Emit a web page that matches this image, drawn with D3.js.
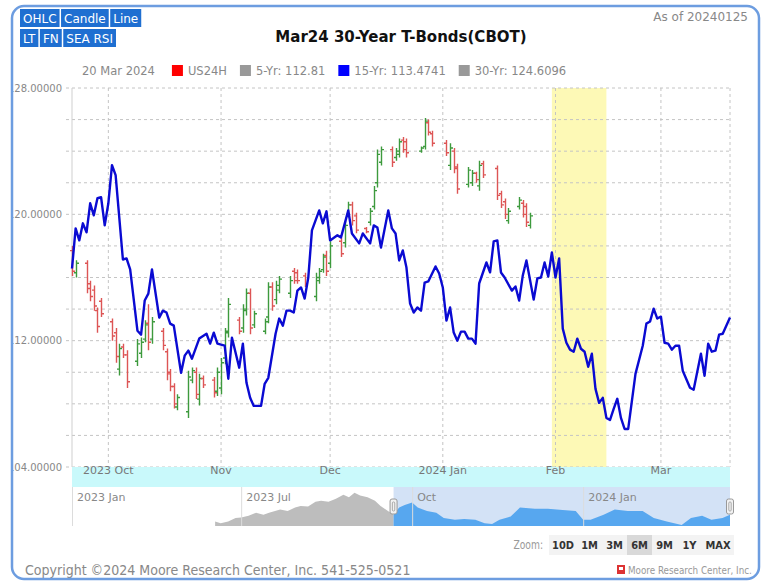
<!DOCTYPE html>
<html>
<head>
<meta charset="utf-8">
<script src="https://cdn.jsdelivr.net/npm/d3@7"></script>
<style>
  body { margin: 0; background: #fff; }
  svg { display: block; font-family: "DejaVu Sans", Verdana, sans-serif; }
</style>
</head>
<body>
<div id="chart"></div>
<script>
// ---- data ----
var topButtons = [["OHLC", "Candle", "Line"], ["LT", "FN", "SEA RSI"]];
var titleText = "Mar24 30-Year T-Bonds(CBOT)";
var asOfText = "As of 20240125";
var legendDate = "20 Mar 2024";
var legendNames = ["US24H", "5-Yr: 112.81", "15-Yr: 113.4741", "30-Yr: 124.6096"];
var legendColors = ["#ff0000", "#999999", "#0000ff", "#999999"];

var monthTicks = ["2023-10-01", "2023-11-01", "2023-12-01", "2024-01-01", "2024-02-01", "2024-03-01"];
var monthLabels = ["2023 Oct", "Nov", "Dec", "2024 Jan", "Feb", "Mar"];
var yLabelTicks = [104, 112, 120, 128];
var seasonalWindow = ["2024-01-31", "2024-02-15"];

var navTicks = ["2023-01-01", "2023-07-01", "2023-10-01", "2024-01-01"];
var navLabels = ["2023 Jan", "2023 Jul", "Oct", "2024 Jan"];
var zoomLabels = ["10D", "1M", "3M", "6M", "9M", "1Y", "MAX"];
var zoomSelected = "6M";

// US24H daily bars: date, open, high, low, close
var us24h = [
  ["2023-09-21",117.7,118.0,116.1,116.4],["2023-09-22",116.3,117.1,116.0,116.9],
  ["2023-09-25",116.9,117.1,115.0,115.3],["2023-09-26",115.6,115.8,114.5,114.8],
  ["2023-09-27",115.2,115.5,113.9,114.2],["2023-09-28",113.9,114.1,112.5,112.9],
  ["2023-09-29",114.5,114.7,113.5,113.7],["2023-10-02",113.2,113.4,112.0,112.3],
  ["2023-10-03",112.5,112.8,110.6,111.0],["2023-10-04",110.2,111.8,109.8,111.5],
  ["2023-10-05",111.6,111.8,110.9,111.1],["2023-10-06",111.1,111.4,109.0,109.4],
  ["2023-10-09",110.7,112.1,110.4,111.8],["2023-10-10",111.2,112.2,110.9,111.9],
  ["2023-10-11",112.1,113.3,111.9,113.0],["2023-10-12",113.1,114.3,111.4,111.9],
  ["2023-10-13",112.1,113.5,111.8,113.2],["2023-10-16",112.6,112.8,111.4,111.7],
  ["2023-10-17",111.3,111.5,109.5,109.9],["2023-10-18",110.0,110.2,108.8,109.1],
  ["2023-10-19",109.1,109.3,107.7,108.0],["2023-10-20",107.8,108.6,107.6,108.4],
  ["2023-10-23",107.5,110.1,107.1,109.7],["2023-10-24",109.5,110.3,109.3,110.1],
  ["2023-10-25",110.0,110.3,108.3,108.6],["2023-10-26",108.3,109.9,107.9,109.6],
  ["2023-10-27",109.6,109.8,109.0,109.2],["2023-10-30",109.5,109.7,108.4,108.7],
  ["2023-10-31",108.8,110.3,108.5,110.0],["2023-11-01",109.0,110.9,108.6,110.6],
  ["2023-11-02",110.9,112.8,110.5,112.5],["2023-11-03",112.6,114.7,112.2,114.3],
  ["2023-11-06",113.3,113.5,112.4,112.6],["2023-11-07",112.8,114.3,112.5,114.0],
  ["2023-11-08",113.9,115.3,113.6,115.0],["2023-11-09",115.0,115.3,112.4,112.8],
  ["2023-11-10",113.0,113.9,112.8,113.7],["2023-11-13",112.6,113.4,112.4,113.2],
  ["2023-11-14",113.5,115.7,113.1,115.4],["2023-11-15",115.4,115.7,113.9,114.2],
  ["2023-11-16",114.6,115.8,114.3,115.5],["2023-11-17",115.2,116.1,115.0,115.9],
  ["2023-11-20",115.0,116.1,114.7,115.8],["2023-11-21",116.4,116.6,115.6,115.8],
  ["2023-11-22",116.3,116.5,115.6,115.8],["2023-11-24",116.1,116.3,115.4,115.6],
  ["2023-11-27",114.8,116.3,114.5,116.0],["2023-11-28",115.8,116.6,115.6,116.4],
  ["2023-11-29",116.5,117.5,116.3,117.3],["2023-11-30",117.4,117.7,116.1,116.4],
  ["2023-12-01",116.9,118.3,116.6,118.0],["2023-12-04",118.3,118.5,117.3,117.5],
  ["2023-12-05",118.2,119.6,117.9,119.3],["2023-12-06",120.0,120.8,119.8,120.6],
  ["2023-12-07",120.6,120.8,119.3,119.6],["2023-12-08",119.9,120.1,118.8,119.0],
  ["2023-12-11",119.1,119.2,118.8,118.9],["2023-12-12",119.5,120.4,119.3,120.2],
  ["2023-12-13",120.5,121.8,120.3,121.5],["2023-12-14",122.0,124.1,121.7,123.8],
  ["2023-12-15",123.3,124.3,123.1,124.1],["2023-12-18",124.1,124.3,123.0,123.3],
  ["2023-12-19",123.6,124.2,123.4,124.0],["2023-12-20",123.8,124.8,123.6,124.6],
  ["2023-12-21",124.7,124.9,123.9,124.1],["2023-12-22",124.6,124.8,123.6,123.9],
  ["2023-12-26",124.0,124.3,123.9,124.2],["2023-12-27",124.3,126.1,124.1,125.9],
  ["2023-12-28",125.8,126.0,125.0,125.2],["2023-12-29",125.1,125.3,124.3,124.5],
  ["2024-01-02",124.5,124.7,123.7,123.9],["2024-01-03",123.1,124.5,122.8,124.2],
  ["2024-01-04",124.0,124.2,122.6,122.9],["2024-01-05",123.0,123.2,121.3,121.6],
  ["2024-01-08",121.9,123.0,121.7,122.8],["2024-01-09",122.0,122.8,121.8,122.6],
  ["2024-01-10",122.6,122.7,122.0,122.2],["2024-01-11",121.8,123.4,121.5,123.1],
  ["2024-01-12",123.2,123.4,122.3,122.5],["2024-01-16",122.9,123.1,120.9,121.2],
  ["2024-01-17",121.3,121.5,120.4,120.6],["2024-01-18",120.8,121.0,119.7,120.0],
  ["2024-01-19",119.6,120.4,119.4,120.2],["2024-01-22",120.5,121.1,120.3,120.9],
  ["2024-01-23",120.7,120.9,119.8,120.0],["2024-01-24",120.5,120.7,119.2,119.5],
  ["2024-01-25",119.3,120.1,119.1,119.9]
];

// 15-year seasonal pattern
var fifteenYr = [
  ["2023-09-21",116.57],["2023-09-22",119.11],["2023-09-23",118.35],["2023-09-24",119.43],
  ["2023-09-25",118.86],["2023-09-26",120.70],["2023-09-27",119.94],["2023-09-28",121.02],
  ["2023-09-29",121.08],["2023-09-30",119.30],["2023-10-01",120.70],["2023-10-02",123.11],
  ["2023-10-03",122.48],["2023-10-05",117.14],["2023-10-06",117.21],["2023-10-07",116.51],
  ["2023-10-09",112.63],["2023-10-10",112.38],["2023-10-11",114.54],["2023-10-12",114.98],
  ["2023-10-13",116.51],["2023-10-15",113.46],["2023-10-16",113.90],["2023-10-17",113.78],
  ["2023-10-18",113.08],["2023-10-19",112.95],["2023-10-21",109.97],["2023-10-22",111.05],
  ["2023-10-23",111.37],["2023-10-24",110.86],["2023-10-26",112.13],["2023-10-28",112.44],
  ["2023-10-29",111.81],["2023-10-30",112.51],["2023-10-31",111.81],["2023-11-02",111.68],
  ["2023-11-03",109.59],["2023-11-04",112.19],["2023-11-06",110.29],["2023-11-07",111.81],
  ["2023-11-08",109.33],["2023-11-09",108.38],["2023-11-10",107.87],["2023-11-12",107.87],
  ["2023-11-13",109.27],["2023-11-14",109.65],["2023-11-16",112.44],["2023-11-17",113.40],
  ["2023-11-18",112.95],["2023-11-19",113.90],["2023-11-20",113.90],["2023-11-21",113.78],
  ["2023-11-22",115.17],["2023-11-23",115.37],["2023-11-24",114.67],["2023-11-25",116.00],
  ["2023-11-26",118.98],["2023-11-28",120.25],["2023-11-29",119.43],["2023-11-30",120.19],
  ["2023-12-01",118.35],["2023-12-03",118.67],["2023-12-04",118.54],["2023-12-06",120.25],
  ["2023-12-07",118.79],["2023-12-09",118.16],["2023-12-10",118.79],["2023-12-12",118.16],
  ["2023-12-13",119.30],["2023-12-14",119.17],["2023-12-15",117.90],["2023-12-17",120.25],
  ["2023-12-18",119.11],["2023-12-19",118.79],["2023-12-20",117.08],["2023-12-21",117.71],
  ["2023-12-22",116.63],["2023-12-23",114.35],["2023-12-24",113.78],["2023-12-25",114.10],
  ["2023-12-26",113.90],["2023-12-27",115.68],["2023-12-28",115.75],["2023-12-30",116.70],
  ["2023-12-31",116.25],["2024-01-01",115.37],["2024-01-02",113.27],["2024-01-03",114.10],
  ["2024-01-04",112.51],["2024-01-05",112.00],["2024-01-06",112.57],["2024-01-07",112.57],
  ["2024-01-08",112.13],["2024-01-09",112.13],["2024-01-10",111.81],["2024-01-11",115.62],
  ["2024-01-13",116.95],["2024-01-14",116.32],["2024-01-15",118.29],["2024-01-16",118.35],
  ["2024-01-17",116.32],["2024-01-18",116.00],["2024-01-20",115.17],["2024-01-21",115.43],
  ["2024-01-22",114.54],["2024-01-23",116.13],["2024-01-24",117.08],["2024-01-26",114.60],
  ["2024-01-27",115.94],["2024-01-28",116.00],["2024-01-29",116.95],["2024-01-30",116.06],
  ["2024-01-31",117.59],["2024-02-01",116.00],["2024-02-02",117.21],["2024-02-03",112.76],
  ["2024-02-04",111.87],["2024-02-05",111.43],["2024-02-06",111.30],["2024-02-07",112.13],
  ["2024-02-08",111.49],["2024-02-09",111.30],["2024-02-10",110.35],["2024-02-11",111.17],
  ["2024-02-12",108.95],["2024-02-13",108.06],["2024-02-14",108.38],["2024-02-15",107.11],
  ["2024-02-16",106.98],["2024-02-17",107.68],["2024-02-18",108.32],["2024-02-19",107.11],
  ["2024-02-20",106.41],["2024-02-21",106.41],["2024-02-23",109.90],["2024-02-25",111.68],
  ["2024-02-26",113.08],["2024-02-27",113.21],["2024-02-28",114.03],["2024-02-29",113.40],
  ["2024-03-01",113.52],["2024-03-02",111.87],["2024-03-03",111.81],["2024-03-04",111.43],
  ["2024-03-05",111.68],["2024-03-06",111.68],["2024-03-07",110.10],["2024-03-09",109.02],
  ["2024-03-10",108.89],["2024-03-12",111.17],["2024-03-13",109.78],["2024-03-14",111.81],
  ["2024-03-15",111.30],["2024-03-16",111.37],["2024-03-17",112.38],["2024-03-18",112.44],
  ["2024-03-20",113.47]
];

// navigator series (whole contract history)
var navSeries = [
  ["2023-06-17",103.2],["2023-06-20",101.9],["2023-06-24",103.2],["2023-06-28",105.7],
  ["2023-07-01",106.2],["2023-07-05",107.4],["2023-07-09",109.5],["2023-07-13",108.2],
  ["2023-07-16",109.5],["2023-07-22",112.0],["2023-07-26",110.8],["2023-07-30",113.3],
  ["2023-08-02",114.5],["2023-08-06",114.0],["2023-08-10",117.5],["2023-08-13",118.3],
  ["2023-08-17",117.5],["2023-08-21",119.6],["2023-08-25",122.5],["2023-08-28",120.8],
  ["2023-08-31",124.0],["2023-09-03",122.0],["2023-09-07",120.8],["2023-09-11",118.3],
  ["2023-09-14",114.5],["2023-09-18",110.8],["2023-09-21",108.2],["2023-09-24",113.3],
  ["2023-09-27",115.2],["2023-10-01",117.0],["2023-10-04",113.3],["2023-10-09",110.8],
  ["2023-10-14",109.5],["2023-10-18",105.7],["2023-10-24",104.5],["2023-10-29",105.0],
  ["2023-11-04",104.5],["2023-11-09",101.9],["2023-11-13",101.4],["2023-11-17",104.5],
  ["2023-11-23",106.9],["2023-11-28",113.3],["2023-12-06",112.5],["2023-12-13",112.5],
  ["2023-12-21",111.5],["2023-12-28",110.8],["2024-01-01",104.5],["2024-01-05",104.5],
  ["2024-01-12",108.2],["2024-01-18",112.0],["2024-01-25",110.8],["2024-02-02",110.8],
  ["2024-02-08",105.7],["2024-02-15",103.2],["2024-02-23",100.7],["2024-02-28",105.7],
  ["2024-03-05",107.4],["2024-03-10",104.5],["2024-03-16",105.7],["2024-03-20",108.2]
];

// ---- drawing ----
var parse = d3.timeParse("%Y-%m-%d");
var plotL = 72, plotR = 730, plotT = 88, plotB = 467;
var navTop = 487, navBottom = 526;

var x = d3.scaleTime()
	.domain([parse("2023-09-21"), parse("2024-03-20")])
	.range([plotL, plotR]);
var y = d3.scaleLinear().domain([104, 128]).range([plotB, plotT]);

var navX = d3.scaleTime()
	.domain([parse("2023-04-01"), parse("2024-03-20")])
	.range([plotL, plotR]);
var navY = d3.scaleLinear().domain([100, 126]).range([navBottom, 490]);

var svg = d3.select("#chart").append("svg")
	.attr("width", 768)
	.attr("height", 587);

var defs = svg.append("defs");
defs.append("clipPath").attr("id", "frameClip")
	.append("rect").attr("x", 13).attr("y", 7).attr("width", 746).attr("height", 571).attr("rx", 11);

var selStart = navX(parse("2023-09-21"));
defs.append("clipPath").attr("id", "preSel")
	.append("rect").attr("x", plotL).attr("y", navTop).attr("width", selStart - plotL).attr("height", navBottom - navTop);
defs.append("clipPath").attr("id", "inSel")
	.append("rect").attr("x", selStart).attr("y", navTop).attr("width", plotR - selStart).attr("height", navBottom - navTop);

var root = svg.append("g").attr("clip-path", "url(#frameClip)");

function fitWidth(sel, w) {
	var len = sel.node().getComputedTextLength();
	sel.attr("font-size", parseFloat(sel.attr("font-size")) * w / len);
}

// top-left buttons
topButtons.forEach(function (row, r) {
	var cx = 20;
	row.forEach(function (label) {
		var g = root.append("g");
		var rect = g.append("rect").attr("y", 9 + r * 20).attr("height", 18).attr("fill", "#1f6fd1");
		var t = g.append("text")
			.attr("y", 9 + r * 20 + 13.5)
			.attr("font-size", 12)
			.attr("fill", "#fff")
			.attr("text-anchor", "middle")
			.text(label);
		var w = t.node().getComputedTextLength() + 6;
		rect.attr("x", cx).attr("width", w);
		t.attr("x", cx + w / 2);
		cx += w + 1.5;
	});
});

// title + as-of
root.append("text")
	.attr("x", 401).attr("y", 42)
	.attr("text-anchor", "middle")
	.attr("font-size", 15).attr("font-weight", "bold")
	.attr("fill", "#111")
	.text(titleText);
root.append("text")
	.attr("x", 748).attr("y", 21)
	.attr("text-anchor", "end")
	.attr("font-size", 12).attr("fill", "#888")
	.text(asOfText);

// legend
var lx = 82, ly = 75;
var dt = root.append("text").attr("x", lx).attr("y", ly)
	.attr("font-size", 11.5).attr("fill", "#888").text(legendDate);
lx += dt.node().getComputedTextLength() + 17;
legendNames.forEach(function (name, i) {
	root.append("rect").attr("x", lx).attr("y", ly - 10).attr("width", 11).attr("height", 11)
		.attr("fill", legendColors[i]);
	var t = root.append("text").attr("x", lx + 16).attr("y", ly)
		.attr("font-size", 11.5).attr("fill", "#888").text(name);
	lx += 16 + t.node().getComputedTextLength() + 13;
});

// seasonal window
root.append("rect")
	.attr("x", x(parse(seasonalWindow[0])))
	.attr("width", x(parse(seasonalWindow[1])) - x(parse(seasonalWindow[0])))
	.attr("y", plotT).attr("height", plotB - plotT)
	.attr("fill", "#fdf9b6");

// grid
root.append("g").selectAll("line")
	.data(y.ticks(12))
	.enter().append("line")
	.attr("x1", 66).attr("x2", plotR)
	.attr("y1", function (d) { return y(d); })
	.attr("y2", function (d) { return y(d); })
	.attr("stroke", "#c4c4c4")
	.attr("stroke-dasharray", "3,3");

var vlines = monthTicks.map(parse).map(function (d) { return x(d); }).concat([plotR]);
root.append("g").selectAll("line")
	.data(vlines)
	.enter().append("line")
	.attr("x1", function (d) { return d; }).attr("x2", function (d) { return d; })
	.attr("y1", plotT).attr("y2", plotB)
	.attr("stroke", "#c4c4c4")
	.attr("stroke-dasharray", "3,3");

root.append("line")
	.attr("x1", plotL).attr("x2", plotL).attr("y1", plotT).attr("y2", plotB)
	.attr("stroke", "#cfcfcf");

root.append("g").selectAll("text")
	.data(yLabelTicks)
	.enter().append("text")
	.attr("x", 62)
	.attr("y", function (d) { return y(d); })
	.attr("dy", "0.35em")
	.attr("text-anchor", "end")
	.attr("font-size", 10)
	.attr("fill", "#888")
	.text(d3.format(".5f"));

// OHLC bars
var bars = root.append("g").attr("fill", "none").attr("stroke-width", 1.4);
us24h.forEach(function (b) {
	var bx = Math.round(x(parse(b[0]))) + 0.5;
	bars.append("path")
		.attr("d", "M" + bx + "," + y(b[2]) + "V" + y(b[3]) +
			"M" + (bx - 2.5) + "," + y(b[1]) + "H" + bx +
			"M" + bx + "," + y(b[4]) + "H" + (bx + 2.5))
		.attr("stroke", b[4] >= b[1] ? "#3d9a3d" : "#dd5555");
});

// 15-yr line
var line = d3.line()
	.x(function (d) { return x(parse(d[0])); })
	.y(function (d) { return y(d[1]); });
root.append("path")
	.datum(fifteenYr)
	.attr("d", line)
	.attr("fill", "none")
	.attr("stroke", "#0a0ad2")
	.attr("stroke-width", 2.4)
	.attr("stroke-linejoin", "round");

// x-axis band
root.append("rect")
	.attr("x", plotL).attr("width", plotR - plotL)
	.attr("y", plotB).attr("height", navTop - plotB)
	.attr("fill", "#c9f9fb");
root.append("g").selectAll("text")
	.data(monthTicks)
	.enter().append("text")
	.attr("x", function (d) { return x(parse(d)); })
	.attr("y", plotB + 7)
	.attr("text-anchor", "middle")
	.attr("font-size", 11)
	.attr("fill", "#777")
	.text(function (d, i) { return monthLabels[i]; });

// navigator
root.append("rect")
	.attr("x", selStart).attr("width", plotR - selStart)
	.attr("y", navTop).attr("height", navBottom - navTop)
	.attr("fill", "#d3e2f6");

var navArea = d3.area()
	.x(function (d) { return navX(parse(d[0])); })
	.y0(navBottom)
	.y1(function (d) { return navY(d[1]); });
root.append("path").datum(navSeries).attr("d", navArea)
	.attr("fill", "#bdbdbd").attr("clip-path", "url(#preSel)");
root.append("path").datum(navSeries).attr("d", navArea)
	.attr("fill", "#57a7ef").attr("clip-path", "url(#inSel)");

var navPos = navTicks.map(function (d) { return Math.max(plotL, navX(parse(d))); });
root.append("g").selectAll("line")
	.data(navPos)
	.enter().append("line")
	.attr("x1", function (d) { return d + 0.5; }).attr("x2", function (d) { return d + 0.5; })
	.attr("y1", navTop).attr("y2", navBottom)
	.attr("stroke", "#dcdcdc");
root.append("g").selectAll("text")
	.data(navPos)
	.enter().append("text")
	.attr("x", function (d) { return d + 5; })
	.attr("y", navTop + 14)
	.attr("font-size", 11)
	.attr("fill", "#888")
	.text(function (d, i) { return navLabels[i]; });

[selStart, plotR].forEach(function (hx) {
	var g = root.append("g");
	g.append("rect")
		.attr("x", hx - 3.5).attr("y", 499).attr("width", 7).attr("height", 15).attr("rx", 2)
		.attr("fill", "#f2f2f2").attr("stroke", "#999");
	g.append("rect")
		.attr("x", hx - 1.2).attr("y", 502).attr("width", 2.4).attr("height", 9).attr("rx", 1)
		.attr("fill", "none").attr("stroke", "#999").attr("stroke-width", 0.8);
});

// zoom buttons
var narrow = "'DejaVu Sans Condensed', 'Liberation Sans Narrow', sans-serif";
root.append("text")
	.attr("x", 543).attr("y", 549)
	.attr("text-anchor", "end")
	.attr("font-family", narrow).attr("font-size", 12)
	.attr("fill", "#999")
	.attr("transform", "translate(543,0) scale(0.85,1) translate(-543,0)")
	.text("Zoom:");
var zx = 549;
zoomLabels.forEach(function (label) {
	var g = root.append("g");
	var rect = g.append("rect").attr("y", 535).attr("height", 20)
		.attr("fill", label === zoomSelected ? "#d9d9d9" : "#f3f3f3");
	var w = label === "MAX" ? 32 : (label === "10D" ? 28 : 25);
	rect.attr("x", zx).attr("width", w);
	g.append("text").attr("y", 549)
		.attr("x", zx + w / 2)
		.attr("text-anchor", "middle")
		.attr("font-family", narrow).attr("font-size", 11).attr("font-weight", "bold")
		.attr("fill", "#333").text(label);
	zx += w;
});

// footer
var copy = root.append("text")
	.attr("x", 25).attr("y", 575)
	.attr("font-family", narrow).attr("font-size", 15)
	.attr("fill", "#888")
	.text("Copyright \u00a92024 Moore Research Center, Inc. 541-525-0521");
fitWidth(copy, 386);

root.append("rect").attr("x", 617).attr("y", 565).attr("width", 8).attr("height", 9).attr("fill", "#d33");
root.append("rect").attr("x", 619).attr("y", 567).attr("width", 4).attr("height", 3).attr("fill", "#fff");
var brand = root.append("text")
	.attr("x", 628).attr("y", 574)
	.attr("font-family", narrow).attr("font-size", 11)
	.attr("fill", "#999")
	.text("Moore Research Center, Inc.");
fitWidth(brand, 124);

// frame
svg.append("rect")
	.attr("x", 12).attr("y", 6).attr("width", 747).attr("height", 573).attr("rx", 12)
	.attr("fill", "none")
	.attr("stroke", "#6d9de0")
	.attr("stroke-width", 2.5);
</script>
</body>
</html>
